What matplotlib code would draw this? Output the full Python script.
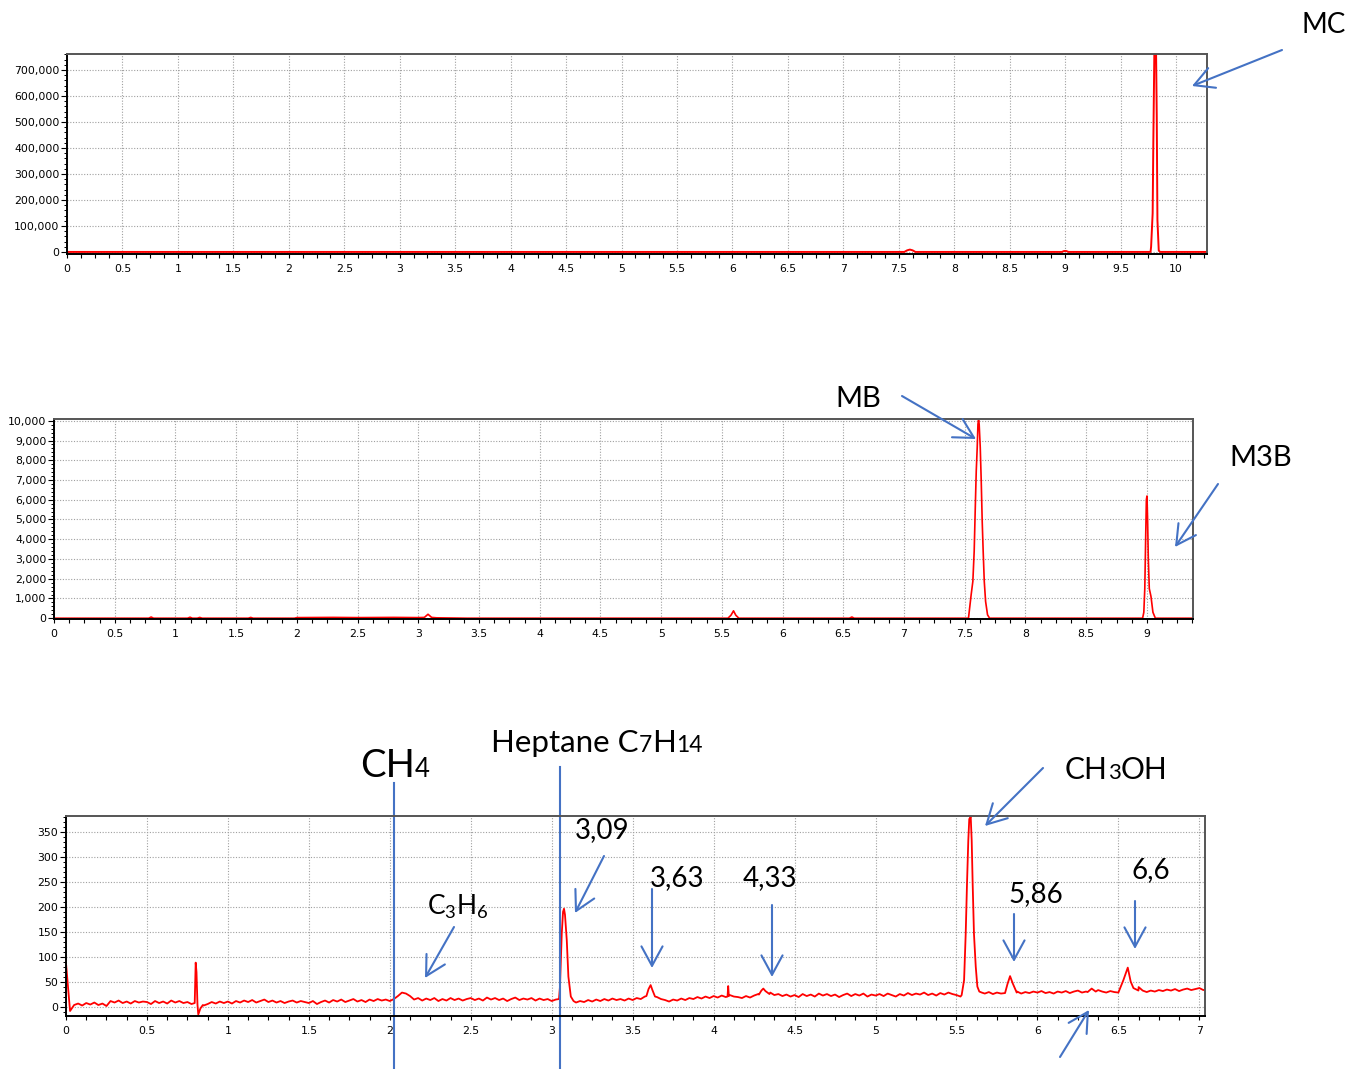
import matplotlib
matplotlib.use("Agg")
import matplotlib.pyplot as plt
import matplotlib.transforms as mtransforms
from matplotlib.ticker import MultipleLocator, FuncFormatter
import numpy as np

plt.rcParams['mathtext.fontset'] = 'custom'
plt.rcParams['mathtext.rm'] = 'Lato'
plt.rcParams['mathtext.it'] = 'Lato:italic'

W, H = 1350, 1069
BLUE = '#4472C4'
RED = '#FF0000'

# chromatogram 1 (MC)
mc_t = [0.0, 7.55, 7.575, 7.6, 7.625, 7.65, 8.97, 8.99, 9.01, 9.03,
        9.77, 9.775, 9.789, 9.795, 9.804, 9.812, 9.820, 9.826, 9.832, 9.844, 9.856, 10.28]
mc_v = [0, 0, 6000, 9000, 6000, 0, 0, 3500, 3500, 0,
        0, 20000, 149000, 418000, 758000, 800000, 758000, 520000, 123000, 5000, 0, 0]

# chromatogram 2 (MB, M3B)
mb_t = [0.0, 0.78, 0.8, 0.82, 1.1, 1.12, 1.14, 1.18, 1.2, 1.22, 1.6, 1.62, 1.64,
        1.98, 2.0, 2.3, 2.5, 2.8, 3.0, 3.05, 3.08, 3.11, 3.15, 3.4,
        5.55, 5.575, 5.596, 5.615, 5.64, 6.55, 6.571, 6.59,
        7.531, 7.553, 7.567, 7.578, 7.587, 7.595, 7.603, 7.609, 7.614, 7.619,
        7.628, 7.636, 7.644, 7.652, 7.661, 7.672, 7.688, 7.705,
        8.965, 8.975, 8.983, 8.990, 8.996, 9.001, 9.006, 9.012, 9.02, 9.034, 9.05, 9.07, 9.38]
mb_v = [0, 0, 60, 0, 0, 50, 0, 0, 40, 0, 0, 40, 0,
        0, 30, 40, 30, 40, 30, 40, 200, 40, 20, 0,
        0, 150, 373, 150, 0, 0, 60, 0,
        0, 1187, 1865, 3390, 5594, 7458, 8645, 9831, 10034, 9831,
        8645, 6950, 4916, 3390, 1865, 848, 170, 0,
        0, 300, 1500, 4000, 6000, 6190, 5000, 3000, 1500, 1100, 300, 0, 0]

# chromatogram 3: noisy baseline sampled every 0.025 min, peaks listed separately
base_step = 0.025
base_v = [
    88, -8, 4, 7, 3, 8, 5, 9, 4, 7, 2, 12, 9, 13, 8, 11, 7, 12, 9, 11,
    10, 6, 12, 8, 11, 7, 13, 9, 12, 8, 10, 6, 12, -10, 3, 6, 10, 7, 11, 8,
    11, 7, 12, 9, 13, 10, 14, 9, 12, 15, 10, 13, 9, 12, 8, 11, 13, 9, 12, 10,
    8, 12, 6, 10, 13, 9, 14, 11, 15, 10, 13, 16, 11, 14, 10, 15, 12, 16, 13, 15,
    12, 16, 22, 29, 27, 22, 15, 18, 13, 17, 14, 18, 12, 16, 13, 18, 14, 17, 13, 16,
    18, 14, 17, 13, 19, 15, 18, 14, 17, 12, 16, 19, 14, 17, 15, 18, 13, 17, 14, 16,
    12, 15, 40, 190, 134, 21, 9, 12, 10, 14, 11, 15, 12, 16, 13, 17, 14, 16, 13, 17,
    14, 18, 16, 21, 38, 30, 20, 16, 14, 11, 15, 13, 17, 14, 18, 16, 20, 17, 21, 18,
    22, 19, 23, 20, 24, 21, 20, 18, 22, 19, 23, 26, 30, 35, 29, 24, 26, 22, 25, 21,
    24, 20, 26, 22, 25, 21, 27, 23, 26, 22, 25, 20, 24, 27, 22, 26, 23, 27, 21, 25,
    23, 26, 22, 27, 24, 21, 26, 23, 28, 24, 27, 25, 29, 24, 27, 23, 28, 25, 29, 26,
    24, 21, 25, 30, 40, 60, 30, 27, 30, 26, 29, 27, 30, 40, 55, 31, 27, 30, 28, 31,
    29, 32, 28, 30, 27, 31, 29, 32, 28, 31, 33, 29, 31, 34, 37, 34, 31, 29, 32, 30,
    31, 34, 50, 75, 60, 40, 33, 30, 33, 31, 34, 32, 35, 33, 36, 32, 35, 37, 34, 36,
    38, 34, 36,
]
peaks3 = [
    ([0.795, 0.801, 0.806, 0.812, 0.817, 0.83, 0.845], [8, 89, 70, 5, -15, -3, 4]),
    ([3.045, 3.051, 3.062, 3.070, 3.076, 3.082, 3.093, 3.103, 3.118, 3.135],
     [16, 41, 147, 191, 197, 185, 134, 61, 21, 12]),
    ([3.585, 3.598, 3.611, 3.622, 3.638], [22, 36, 44, 34, 21]),
    ([4.086, 4.09, 4.094], [21, 42, 22]),
    ([4.28, 4.295, 4.307, 4.32, 4.345], [25, 33, 37, 32, 26]),
    ([5.532, 5.547, 5.557, 5.565, 5.573, 5.579, 5.588, 5.594, 5.600, 5.608,
      5.619, 5.629, 5.641, 5.656],
     [24, 54, 147, 247, 334, 377, 381, 334, 247, 147, 81, 41, 31, 29]),
    ([5.80, 5.815, 5.831, 5.848, 5.872], [28, 46, 62, 47, 29]),
    ([6.31, 6.335, 6.36], [30, 37, 31]),
    ([6.50, 6.531, 6.558, 6.576, 6.593, 6.624], [29, 54, 79, 51, 38, 33]),
]


def build_trace(step, values, peaks):
    t = np.arange(len(values)) * step
    v = np.array(values, dtype=float)
    keep = np.ones(len(t), bool)
    for pt, pv in peaks:
        keep &= ~((t >= pt[0]) & (t <= pt[-1]))
    tt = np.concatenate([t[keep]] + [np.array(p[0]) for p in peaks])
    vv = np.concatenate([v[keep]] + [np.array(p[1], float) for p in peaks])
    order = np.argsort(tt)
    return tt[order], vv[order]


def px_box(l, t, r, b):
    return [l / W, 1 - b / H, (r - l) / W, (b - t) / H]


def style(ax, xmax, ylim, ymajor, yminor, comma=True):
    ax.set_xlim(0, xmax)
    ax.set_ylim(*ylim)
    ax.xaxis.set_major_locator(MultipleLocator(0.5))
    ax.xaxis.set_minor_locator(MultipleLocator(0.125))
    ax.yaxis.set_major_locator(MultipleLocator(ymajor))
    ax.yaxis.set_minor_locator(MultipleLocator(yminor))
    ax.xaxis.set_major_formatter(FuncFormatter(lambda v, p: f'{v:g}'))
    if comma:
        ax.yaxis.set_major_formatter(FuncFormatter(lambda v, p: f'{v:,.0f}'))
    ax.grid(which='major', color='#a0a0a0', linestyle=(0, (1, 1.5)), lw=0.8)
    ax.set_axisbelow(True)
    ax.tick_params(axis='y', which='major', length=4, width=0.8, labelsize=7.8, pad=1.5)
    ax.tick_params(axis='y', which='minor', length=2.5, width=0.7)
    ax.tick_params(axis='x', which='both', length=3, width=0.8, labelsize=7.8, pad=4)
    for side in ['left', 'bottom']:
        ax.spines[side].set_color('black')
        ax.spines[side].set_linewidth(1.4)
    for side in ['top', 'right']:
        ax.spines[side].set_color('#555555')
        ax.spines[side].set_linewidth(1.4)


def ff(x, y):
    return (x / W, 1 - y / H)


fig = plt.figure(figsize=(13.5, 10.69), dpi=100)

ax1 = fig.add_axes(px_box(67, 54, 1207, 254))
ax1.plot(mc_t, mc_v, color=RED, lw=1.4)
style(ax1, 10.279, (-8000, 761500), 100000, 20000)

ax2 = fig.add_axes(px_box(54, 419, 1193, 619))
ax2.plot(mb_t, mb_v, color=RED, lw=1.2)
style(ax2, 9.38, (-40, 10090), 1000, 200)

ax3 = fig.add_axes(px_box(66, 816, 1205, 1016))
t3, v3 = build_trace(base_step, base_v, peaks3)
ax3.plot(t3, v3, color=RED, lw=1.3)
style(ax3, 7.035, (-18, 383), 50, 10, comma=False)

# marker lines for CH4 and heptane, extending past the axes
trans = mtransforms.blended_transform_factory(ax3.transData, ax3.transAxes)
ax3.plot([2.026, 2.026], [-0.27, 1.165], color=BLUE, lw=1.5, transform=trans, clip_on=False)
ax3.plot([3.051, 3.051], [-0.27, 1.245], color=BLUE, lw=1.5, transform=trans, clip_on=False)

font = 'Lato'


def label(x, y, s, size, ha='center'):
    fig.text(x / W, 1 - y / H, s, fontsize=size, family=font, ha=ha, va='baseline')


def chem(x, y, parts):
    prev = fig.text(x / W, 1 - y / H, parts[0][0], fontsize=parts[0][1],
                    family=font, ha='left', va='baseline')
    for s, size in parts[1:]:
        prev = ax3.annotate(s, xy=(1, 1 - y / H), xycoords=(prev, 'figure fraction'),
                            fontsize=size, family=font, ha='left', va='baseline',
                            annotation_clip=False)


def arrow(x0, y0, x1, y1):
    ax3.annotate('', xy=ff(x1, y1), xytext=ff(x0, y0),
                 xycoords='figure fraction', textcoords='figure fraction',
                 annotation_clip=False,
                 arrowprops=dict(arrowstyle='->,head_length=0.7,head_width=0.38',
                                 mutation_scale=20, color=BLUE, lw=1.5,
                                 shrinkA=0, shrinkB=0))


label(1324, 33, 'MC', 20)
label(858, 407, 'MB', 21)
label(1261, 466, 'M3B', 21)
chem(360, 777, [('CH', 27.5), ('4', 18.5)])
chem(491, 752, [('Heptane C', 22.5), ('7', 16.5), ('H', 22.5), ('14', 16.5)])
chem(1065, 779, [('CH', 21.5), ('3', 16), ('OH', 21.5)])
label(458, 915, r'$\mathregular{C_3H_6}$', 19)
label(602, 838, '3,09', 20)
label(677, 886, '3,63', 20)
label(770, 886, '4,33', 20)
label(1036, 902, '5,86', 20)
label(1151, 878, '6,6', 20)

arrow(1282, 50, 1192, 86)
arrow(902, 396, 976, 439)
arrow(1218, 484, 1175, 547)
arrow(454, 927, 425, 978)
arrow(604, 856, 575, 913)
arrow(652, 889, 652, 968)
arrow(772, 905, 772, 977)
arrow(1043, 768, 985, 826)
arrow(1014, 914, 1014, 962)
arrow(1135, 901, 1135, 949)
arrow(1060, 1057, 1089, 1010)

fig.savefig('out.png', dpi=100)
